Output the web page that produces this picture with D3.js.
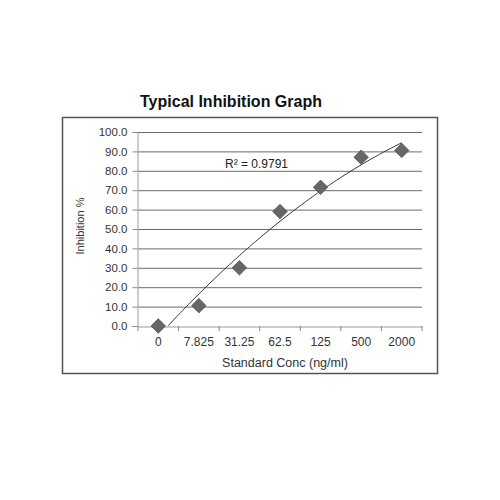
<!DOCTYPE html>
<html>
<head>
<meta charset="utf-8">
<script src="https://cdn.jsdelivr.net/npm/d3@7"></script>
<style>
  body { margin: 0; background: #fff; }
  svg { display: block; font-family: "Liberation Sans", Arial, sans-serif; }
</style>
</head>
<body>
<svg id="chart" width="500" height="500"></svg>
<script>
// data
var categories = ["0", "7.825", "31.25", "62.5", "125", "500", "2000"]
var inhibition = [0, 10.5, 30, 59, 71.5, 87, 90.5]
var yTicks = [0, 10, 20, 30, 40, 50, 60, 70, 80, 90, 100]
var rSquaredLabel = "R² = 0.9791"

var svg = d3.select("#chart")

// chart frame
svg.append("rect")
  .attr("x", 62.5).attr("y", 117.5)
  .attr("width", 375).attr("height", 256)
  .attr("fill", "#fff")
  .attr("stroke", "#555").attr("stroke-width", 1.5)

svg.append("text")
  .attr("x", 231).attr("y", 107)
  .attr("text-anchor", "middle")
  .attr("font-size", 16).attr("font-weight", "bold")
  .attr("fill", "#111")
  .text("Typical Inhibition Graph")

// plot area (don't use "top" as a global name, it's window.top)
var pLeft = 138, pRight = 422, pTop = 132, pBottom = 326

var x = d3.scaleBand().domain(categories).range([pLeft, pRight])
var y = d3.scaleLinear().domain([0, 100]).range([pBottom, pTop])

// gridlines
svg.append("g").selectAll("line")
  .data(yTicks.slice(1))
  .join("line")
  .attr("x1", pLeft).attr("x2", pRight)
  .attr("y1", d => y(d) + 0.5).attr("y2", d => y(d) + 0.5)
  .attr("stroke", "#6a6a6a").attr("stroke-width", 1)

// y axis
var yAxis = svg.append("g")
  .attr("transform", "translate(" + (pLeft - 0.5) + ",0)")
  .call(d3.axisLeft(y).tickValues(yTicks).tickFormat(d3.format(".1f")).tickSize(5).tickPadding(5))
yAxis.select(".domain").attr("stroke", "#999")
yAxis.selectAll(".tick line").attr("stroke", "#888")
yAxis.selectAll("text").attr("font-size", 11.5).attr("fill", "#333")
  .attr("font-family", "'Liberation Sans', Arial, sans-serif")

// x axis, ticks at band edges
var xAxis = svg.append("g")
  .attr("transform", "translate(0," + (pBottom + 0.5) + ")")
  .call(d3.axisBottom(x).tickSize(0).tickPadding(11))
xAxis.select(".domain").attr("stroke", "#999")
xAxis.selectAll("text").attr("font-size", 12).attr("fill", "#333")
  .attr("font-family", "'Liberation Sans', Arial, sans-serif")
svg.append("g").selectAll("line")
  .data(d3.range(categories.length + 1))
  .join("line")
  .attr("x1", i => pLeft + i * x.step()).attr("x2", i => pLeft + i * x.step())
  .attr("y1", pBottom).attr("y2", pBottom + 5)
  .attr("stroke", "#888")

// axis titles
svg.append("text")
  .attr("x", 285).attr("y", 367)
  .attr("text-anchor", "middle")
  .attr("font-size", 12.5).attr("fill", "#333")
  .text("Standard Conc (ng/ml)")

svg.append("text")
  .attr("transform", "translate(84,226) rotate(-90)")
  .attr("text-anchor", "middle")
  .attr("font-size", 11).attr("fill", "#333")
  .text("Inhibition %")

// polynomial (order 2) trendline, least squares on category index 1..n
var n = inhibition.length
var xs = d3.range(1, n + 1)
var xm = d3.mean(xs), ym = d3.mean(inhibition)
var Su2 = d3.sum(xs, v => (v - xm) ** 2)
var Su4 = d3.sum(xs, v => (v - xm) ** 4)
var Suy = d3.sum(xs, (v, i) => (v - xm) * inhibition[i])
var Su2y = d3.sum(xs, (v, i) => (v - xm) ** 2 * inhibition[i])
var b = Suy / Su2
var c = (Su2y - Su2 * ym) / (Su4 - Su2 * Su2 / n)
var a = ym - c * Su2 / n
var fit = u => a + b * (u - xm) + c * (u - xm) ** 2
var idxPos = u => x(categories[0]) + x.bandwidth() / 2 + (u - 1) * x.step()

svg.append("clipPath").attr("id", "plotClip")
  .append("rect").attr("x", pLeft).attr("y", pTop - 20)
  .attr("width", pRight - pLeft).attr("height", pBottom - pTop + 20)

svg.append("path")
  .datum(d3.range(1, n + 0.001, 0.05))
  .attr("clip-path", "url(#plotClip)")
  .attr("fill", "none")
  .attr("stroke", "#333").attr("stroke-width", 1)
  .attr("d", d3.line().x(u => idxPos(u)).y(u => y(fit(u))))

// markers
svg.append("g").selectAll("path")
  .data(inhibition)
  .join("path")
  .attr("transform", (d, i) => "translate(" + (x(categories[i]) + x.bandwidth() / 2) + "," + y(d) + ")")
  .attr("d", d3.symbol().type(d3.symbolDiamond2).size(135))
  .attr("fill", "#666").attr("stroke", "#555").attr("stroke-width", 0.8)

svg.append("text")
  .attr("x", 225).attr("y", 168)
  .attr("font-size", 12).attr("fill", "#222")
  .text(rSquaredLabel)
</script>
</body>
</html>
